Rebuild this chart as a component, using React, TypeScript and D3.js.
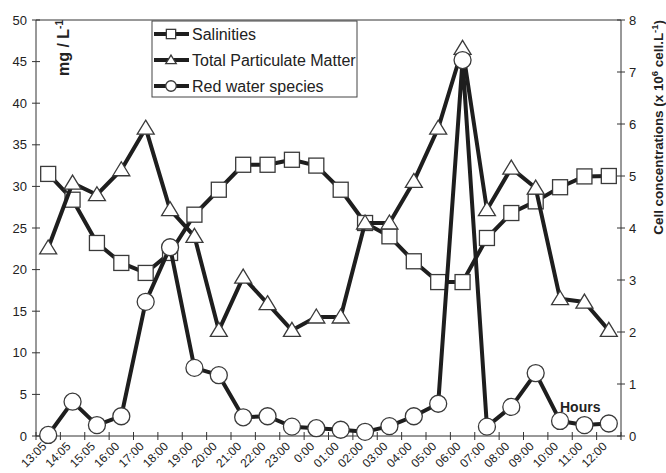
import React from "react";
import * as d3 from "d3";

const categories = ["13:05","14:05","15:05","16:00","17:00","18:00","19:00","20:00","21:00","22:00","23:00","0:00","01:00","02:00","03:00","04:00","05:00","06:00","07:00","08:00","09:00","10:00","11:00","12:00"];
const salinities = [31.5,28.4,23.2,20.8,19.6,22.0,26.6,29.6,32.6,32.6,33.2,32.5,29.6,25.6,24.0,21.0,18.5,18.5,23.8,26.8,28.2,29.9,31.2,31.25];
const tpm = [22.6,30.4,29.0,32.0,37.0,27.2,24.0,12.7,19.1,15.9,12.7,14.3,14.3,25.6,25.6,30.6,37.0,46.6,27.2,32.2,29.8,16.5,16.1,12.7];
const redWater = [0.02,0.66,0.21,0.38,2.58,3.63,1.31,1.17,0.36,0.38,0.18,0.15,0.12,0.08,0.19,0.38,0.62,7.23,0.18,0.56,1.21,0.29,0.21,0.24];
const leftTicks = [0,5,10,15,20,25,30,35,40,45,50];
const rightTicks = [0,1,2,3,4,5,6,7,8];
const legendLabels = ["Salinities","Total Particulate Matter","Red water species"];

const W = 666, H = 473;
const L = 36, R = 621, T = 20, B = 436;
const FONT = "'Liberation Sans', Arial, sans-serif";
const LINE = "#1e1e1e";
const MSTROKE = "#3a3a3a";

function Marker({ type, x, y, s = 1 }: { type: string; x: number; y: number; s?: number }) {
  if (type === "square") {
    const h = 7.5 * s;
    return <rect x={x - h} y={y - h} width={2 * h} height={2 * h} fill="#fff" stroke={MSTROKE} strokeWidth={1.3} />;
  }
  if (type === "triangle") {
    return <path d={`M${x},${y - 8 * s} L${x + 8.5 * s},${y + 6 * s} L${x - 8.5 * s},${y + 6 * s} Z`} fill="#fff" stroke={MSTROKE} strokeWidth={1.3} />;
  }
  return <circle cx={x} cy={y} r={8.5 * s} fill="#fff" stroke={MSTROKE} strokeWidth={1.3} />;
}

export default function App() {
  const x = d3.scaleBand<string>().domain(categories).range([L, R]).paddingInner(0).paddingOuter(0);
  const yL = d3.scaleLinear().domain([0, 50]).range([B, T]);
  const yR = d3.scaleLinear().domain([0, 8]).range([B, T]);
  const cx = (c: string) => (x(c) as number) + x.bandwidth() / 2;

  const series = [
    { name: legendLabels[0], data: salinities, y: yL, marker: "square" },
    { name: legendLabels[1], data: tpm, y: yL, marker: "triangle" },
    { name: legendLabels[2], data: redWater, y: yR, marker: "circle" },
  ];

  const boundaries = categories.map((c) => x(c) as number).concat([R]);

  return (
    <svg width={W} height={H} style={{ position: "absolute", left: 0, top: 0 }} fontFamily={FONT}>
      <rect x={0} y={0} width={W} height={H} fill="#fff" />
      <line x1={L} y1={T} x2={R} y2={T} stroke="#333" strokeWidth={1} />
      <line x1={L} y1={T} x2={L} y2={B} stroke="#333" strokeWidth={1} />
      <line x1={R} y1={T} x2={R} y2={B} stroke="#333" strokeWidth={1} />
      <line x1={L} y1={B} x2={R} y2={B} stroke="#333" strokeWidth={1} />
      {leftTicks.map((t) => (
        <g key={"l" + t}>
          <line x1={L - 4} x2={L + 4} y1={yL(t)} y2={yL(t)} stroke="#333" />
          <text x={L - 9} y={yL(t)} dy="0.35em" textAnchor="end" fontSize={13} fill="#222">{t}</text>
        </g>
      ))}
      {rightTicks.map((t) => (
        <g key={"r" + t}>
          <line x1={R - 4} x2={R + 4} y1={yR(t)} y2={yR(t)} stroke="#333" />
          <text x={R + 8} y={yR(t)} dy="0.35em" textAnchor="start" fontSize={13} fill="#222">{t}</text>
        </g>
      ))}
      {boundaries.map((b, i) => (
        <line key={"b" + i} x1={b} x2={b} y1={B - 4} y2={B + 4} stroke="#333" />
      ))}
      {categories.map((c) => (
        <text key={"x" + c} transform={`translate(${cx(c) - 1},${B + 11}) rotate(-45)`} textAnchor="end" fontSize={12} fill="#222">{c}</text>
      ))}
      {series.map((s) => {
        const line = d3.line<number>().x((_, i) => cx(categories[i])).y((v) => s.y(v));
        return (
          <g key={s.name}>
            <path d={line(s.data) || ""} fill="none" stroke={LINE} strokeWidth={4} strokeLinejoin="round" />
            {s.data.map((v, i) => (
              <Marker key={i} type={s.marker} x={cx(categories[i])} y={s.y(v)} />
            ))}
          </g>
        );
      })}
      <rect x={152} y={21} width={205} height={76} fill="#fff" stroke="#444" strokeWidth={1} />
      {series.map((s, i) => {
        const ly = 34 + i * 26;
        return (
          <g key={"lg" + i}>
            <line x1={154} x2={189} y1={ly} y2={ly} stroke={LINE} strokeWidth={4} />
            <Marker type={s.marker} x={171} y={ly} s={0.62} />
            <text x={192} y={ly} dy="0.36em" fontSize={16} fill="#222">{s.name}</text>
          </g>
        );
      })}
      <text transform={`translate(69,20) rotate(-90)`} textAnchor="end" fontSize={16} fontWeight="bold" fill="#222">
        mg / L<tspan dy={-6} fontSize={10}>-1</tspan>
      </text>
      <text transform={`translate(663,20) rotate(-90)`} textAnchor="end" fontSize={13.4} fontWeight="bold" fill="#222">
        Cell concentrations (x 10<tspan dy={-5} fontSize={9.5}>6</tspan><tspan dy={5}> cell.L</tspan><tspan dy={-5} fontSize={9.5}>-1</tspan><tspan dy={5}>)</tspan>
      </text>
      <text x={560} y={412} fontSize={14} fontWeight="bold" fill="#222">Hours</text>
    </svg>
  );
}
